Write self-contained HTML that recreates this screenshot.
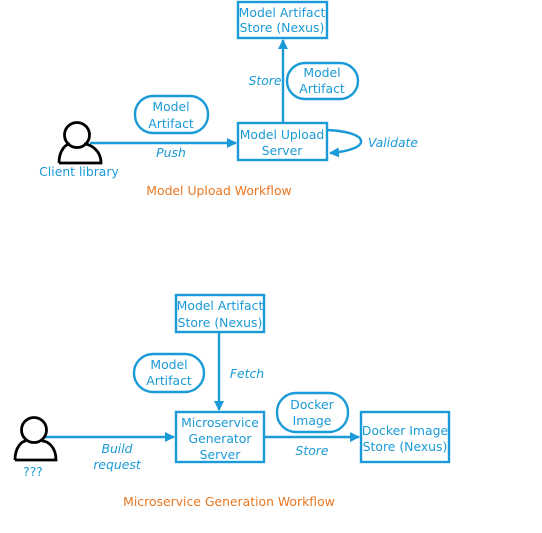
<!DOCTYPE html>
<html><head><meta charset="utf-8"><style>
html,body{margin:0;padding:0;background:#fff;}
svg{display:block;}
text{font-family:"DejaVu Sans","Liberation Sans",sans-serif;font-size:12.4px;fill:#1a9ad6;}
.i{font-style:italic;}
.o{fill:#e87722;}
</style></head><body>
<svg width="542" height="533" viewBox="0 0 542 533" xmlns="http://www.w3.org/2000/svg">
<defs>
<marker id="a" markerWidth="10" markerHeight="10" refX="9" refY="5" orient="auto" markerUnits="userSpaceOnUse">
<path d="M0,0 L10,5 L0,10 z" fill="#1a9ad6"/></marker>
</defs>
<g fill="none" stroke="#1a9ad6" stroke-width="2.4">
<rect x="238" y="2" width="89" height="36"/>
<rect x="238" y="123" width="89" height="37"/>
<line x1="283" y1="123" x2="283" y2="40" marker-end="url(#a)"/>
<rect x="287" y="63" width="71" height="36" rx="18"/>
<rect x="135" y="96" width="73" height="37" rx="18"/>
<line x1="90" y1="143" x2="236" y2="143" marker-end="url(#a)"/>
<path d="M327,130 C372,132 372,150 330,153" marker-end="url(#a)"/>
<rect x="176" y="295" width="88" height="37"/>
<rect x="176" y="412" width="88" height="50"/>
<rect x="361" y="412" width="88" height="50"/>
<line x1="219" y1="332" x2="219" y2="410" marker-end="url(#a)"/>
<rect x="134" y="354" width="70" height="38" rx="19"/>
<rect x="277" y="393" width="71" height="39" rx="19"/>
<line x1="264" y1="437" x2="359" y2="437" marker-end="url(#a)"/>
<line x1="45" y1="437" x2="174" y2="437" marker-end="url(#a)"/>
</g>
<g fill="none" stroke="#000" stroke-width="2.8">
<circle cx="77" cy="135" r="12.5"/>
<path d="M59,163 C59,150 66,144 70,144 M84,144 C90,144 101,150 101,163 L59,163"/>
<circle cx="34" cy="430" r="12.5"/>
<path d="M15,460 C15,447 22,441 26,441 M42,441 C48,441 56,447 56,460 L15,460"/>
</g>
<g text-anchor="middle">
<text x="282" y="17">Model Artifact</text>
<text x="282" y="32">Store (Nexus)</text>
<text x="282" y="139">Model Upload</text>
<text x="282" y="155">Server</text>
<text x="322" y="77">Model</text>
<text x="322" y="93">Artifact</text>
<text x="171" y="111">Model</text>
<text x="171" y="128">Artifact</text>
<text class="i" x="265" y="85">Store</text>
<text class="i" x="171" y="157">Push</text>
<text class="i" x="393" y="147">Validate</text>
<text x="79" y="176">Client library</text>
<text class="o" x="219" y="195">Model Upload Workflow</text>

<text x="220" y="310">Model Artifact</text>
<text x="220" y="327">Store (Nexus)</text>
<text x="169" y="369">Model</text>
<text x="169" y="385">Artifact</text>
<text class="i" x="247" y="378">Fetch</text>
<text x="220" y="427">Microservice</text>
<text x="220" y="443">Generator</text>
<text x="220" y="459">Server</text>
<text x="312" y="409">Docker</text>
<text x="312" y="425">Image</text>
<text x="405" y="435">Docker Image</text>
<text x="405" y="451">Store (Nexus)</text>
<text class="i" x="312" y="455">Store</text>
<text class="i" x="117" y="453">Build</text>
<text class="i" x="117" y="469">request</text>
<text x="33" y="476">???</text>
<text class="o" x="229" y="506">Microservice Generation Workflow</text>
</g>
</svg>
</body></html>
